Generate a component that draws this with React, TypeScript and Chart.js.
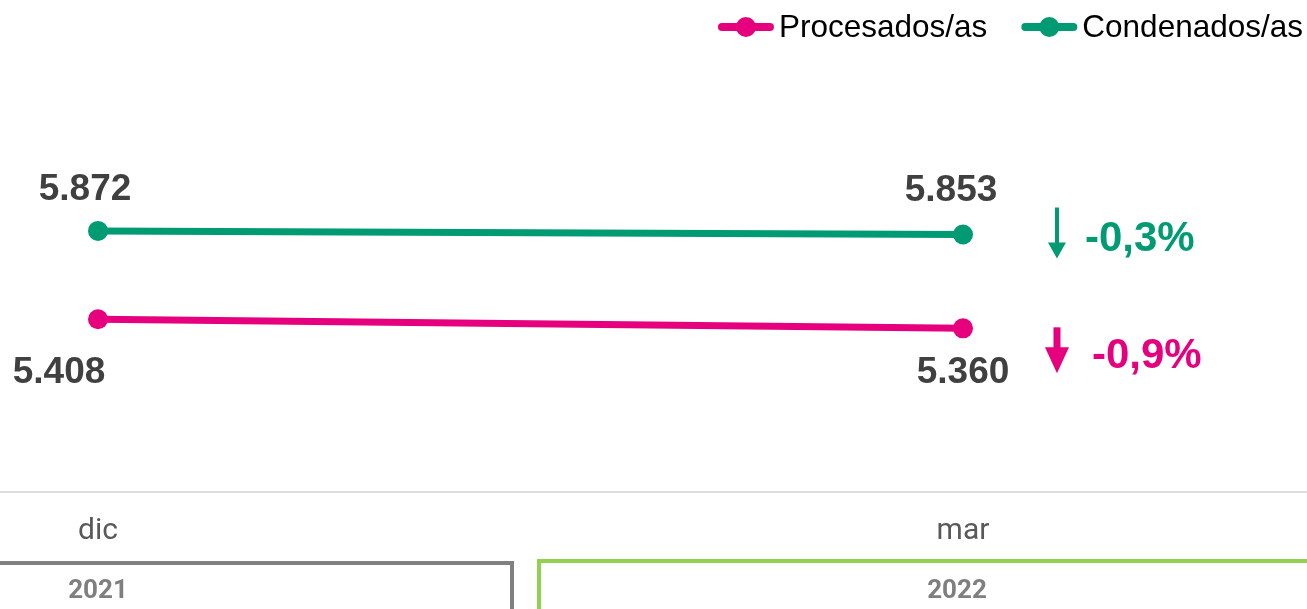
import React, { useEffect, useRef } from 'react';
import { Chart, registerables } from 'chart.js';

Chart.register(...registerables);

// ---- data ----
const categories = ['dic', 'mar'];
const years = ['2021', '2022'];
const seriesLabels = ['Procesados/as', 'Condenados/as'];
const procesados = [5408, 5360];
const condenados = [5872, 5853];

const PINK = '#E6007E';
const GREEN = '#009A73';
const LABEL_COLOR = '#404040';
const SANS = '"Liberation Sans", Arial, sans-serif';
const AXIS_FONT = 'Roboto, "Liberation Sans", Arial, sans-serif';

// per-dataset label placement (offsets from the point, in px)
const labelOffsets = [
  [[-39, 64], [0, 55]],   // Procesados/as
  [[-13, -31], [-12, -34]], // Condenados/as
];

// per-dataset change-annotation styling
const changeStyles = [
  { arrowDx: 94, top: -1, bottom: 45, head: 26, halfHead: 12, shaft: 7, textDx: 129, textDy: 40 },
  { arrowDx: 94, top: -27, bottom: 24, head: 16, halfHead: 9, shaft: 4, textDx: 122, textDy: 16 },
];

const legendPlugin = {
  id: 'customLegend',
  afterDraw(chart: any) {
    const ctx = chart.ctx;
    ctx.save();
    ctx.font = `31.5px ${SANS}`;
    ctx.textBaseline = 'alphabetic';
    ctx.textAlign = 'left';
    let right = chart.width - 4;
    const ds = chart.data.datasets;
    for (let i = ds.length - 1; i >= 0; i--) {
      const text = ds[i].label;
      const w = ctx.measureText(text).width;
      const tx = right - w;
      ctx.fillStyle = '#000';
      ctx.fillText(text, tx, 37);
      const lr = tx - 5;
      const ll = lr - 56;
      ctx.strokeStyle = ds[i].borderColor;
      ctx.lineWidth = 8;
      ctx.lineCap = 'round';
      ctx.beginPath();
      ctx.moveTo(ll + 4, 27);
      ctx.lineTo(lr - 4, 27);
      ctx.stroke();
      ctx.fillStyle = ds[i].borderColor;
      ctx.beginPath();
      ctx.arc(ll + 28, 27, 10, 0, Math.PI * 2);
      ctx.fill();
      right = ll - 34;
    }
    ctx.restore();
  },
};

const dataLabelPlugin = {
  id: 'dataLabels',
  afterDatasetsDraw(chart: any) {
    const ctx = chart.ctx;
    ctx.save();
    ctx.font = `bold 37px ${SANS}`;
    ctx.fillStyle = LABEL_COLOR;
    ctx.textAlign = 'center';
    ctx.textBaseline = 'alphabetic';
    chart.data.datasets.forEach((d: any, di: number) => {
      const meta = chart.getDatasetMeta(di);
      meta.data.forEach((pt: any, pi: number) => {
        const v = d.data[pi].y;
        const txt = v.toLocaleString('de-DE');
        const [dx, dy] = labelOffsets[di][pi];
        ctx.fillText(txt, pt.x + dx, pt.y + dy);
      });
    });
    ctx.restore();
  },
};

const changePlugin = {
  id: 'changeAnnot',
  afterDatasetsDraw(chart: any) {
    const ctx = chart.ctx;
    ctx.save();
    chart.data.datasets.forEach((d: any, di: number) => {
      const meta = chart.getDatasetMeta(di);
      const last = meta.data[meta.data.length - 1];
      const first = d.data[0].y;
      const end = d.data[d.data.length - 1].y;
      const pct = ((end - first) / first) * 100;
      const txt = (pct > 0 ? '+' : '') + pct.toFixed(1).replace('.', ',') + '%';
      const s = changeStyles[di];
      const ax = last.x + s.arrowDx;
      const y0 = last.y + s.top;
      const y1 = last.y + s.bottom;
      const color = d.borderColor;
      ctx.fillStyle = color;
      ctx.strokeStyle = color;
      // shaft
      ctx.fillRect(ax - s.shaft / 2, y0, s.shaft, y1 - y0 - s.head + 1);
      // head
      ctx.beginPath();
      ctx.moveTo(ax - s.halfHead, y1 - s.head);
      ctx.lineTo(ax + s.halfHead, y1 - s.head);
      ctx.lineTo(ax, y1);
      ctx.closePath();
      ctx.fill();
      ctx.font = `bold 42px ${SANS}`;
      ctx.textAlign = 'left';
      ctx.textBaseline = 'alphabetic';
      ctx.fillText(txt, last.x + s.textDx, last.y + s.textDy);
    });
    ctx.restore();
  },
};

const yearPlugin = {
  id: 'yearBoxes',
  afterDraw(chart: any) {
    const ctx = chart.ctx;
    const xs = chart.scales.x;
    const p0 = xs.getPixelForValue(0);
    const p1 = xs.getPixelForValue(1);
    const mid = (p0 + p1) / 2;
    ctx.save();
    ctx.lineWidth = 4;
    ctx.lineCap = 'butt';
    ctx.strokeStyle = '#808080';
    ctx.beginPath();
    ctx.moveTo(-10, 563);
    ctx.lineTo(mid - 18.5, 563);
    ctx.lineTo(mid - 18.5, chart.height + 10);
    ctx.stroke();
    ctx.strokeStyle = '#92D050';
    ctx.beginPath();
    ctx.moveTo(mid + 8.5, chart.height + 10);
    ctx.lineTo(mid + 8.5, 561);
    ctx.lineTo(chart.width + 10, 561);
    ctx.stroke();
    ctx.font = `bold 26px ${AXIS_FONT}`;
    ctx.fillStyle = '#7F7F7F';
    ctx.textAlign = 'center';
    ctx.textBaseline = 'alphabetic';
    [p0, p1].forEach((px, i) => {
      ctx.fillText(years[i], px - (i === 1 ? 6 : 0), 598);
    });
    ctx.restore();
  },
};

export default function App() {
  const ref = useRef<HTMLCanvasElement>(null);
  useEffect(() => {
    const chart = new Chart(ref.current as HTMLCanvasElement, {
      type: 'line',
      data: {
        datasets: [
          {
            label: seriesLabels[0],
            data: procesados.map((v, i) => ({ x: i, y: v })),
            borderColor: PINK,
            backgroundColor: PINK,
            pointBackgroundColor: PINK,
            borderWidth: 7,
            pointRadius: 10,
            pointBorderWidth: 0,
            tension: 0,
            clip: false,
          },
          {
            label: seriesLabels[1],
            data: condenados.map((v, i) => ({ x: i, y: v })),
            borderColor: GREEN,
            backgroundColor: GREEN,
            pointBackgroundColor: GREEN,
            borderWidth: 7,
            pointRadius: 10,
            pointBorderWidth: 0,
            tension: 0,
            clip: false,
          },
        ],
      },
      options: {
        animation: false,
        responsive: true,
        maintainAspectRatio: false,
        layout: { autoPadding: false, padding: { top: 60, left: 0, right: 0, bottom: 0 } },
        plugins: {
          legend: { display: false },
          tooltip: { enabled: false },
        },
        scales: {
          x: {
            type: 'linear',
            min: -0.1133,
            max: 1.3977,
            afterBuildTicks: (s: any) => {
              s.ticks = categories.map((_, i) => ({ value: i }));
            },
            afterFit: (s: any) => {
              s.height = 117;
            },
            ticks: {
              callback: (v: any) => categories[v] ?? '',
              font: { family: AXIS_FONT, size: 30 },
              color: '#595959',
              padding: 21,
              autoSkip: false,
              maxRotation: 0,
            },
            grid: { display: false, drawTicks: false },
            border: { display: true, color: '#DDDDDD', width: 2 },
          },
          y: {
            display: false,
            min: 4500,
            max: 6770,
          },
        },
      },
      plugins: [legendPlugin, dataLabelPlugin, changePlugin, yearPlugin],
    } as any);
    return () => chart.destroy();
  }, []);
  return (
    <div style={{ position: 'absolute', left: 0, top: 0, width: 1307, height: 609 }}>
      <canvas ref={ref} />
    </div>
  );
}
